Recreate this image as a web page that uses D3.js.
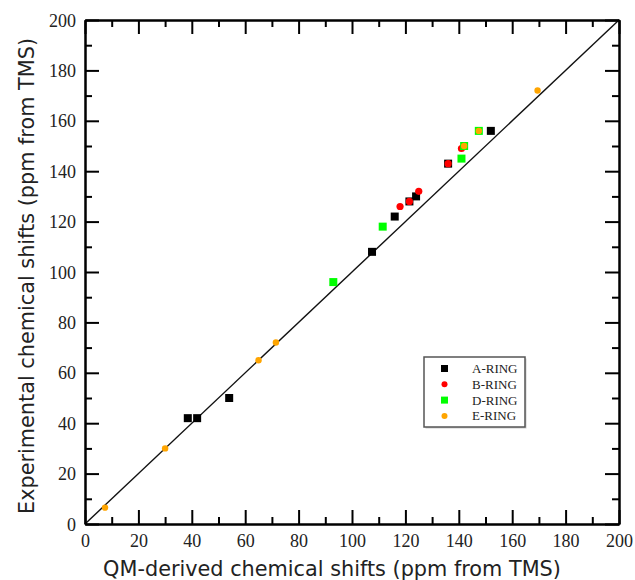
<!DOCTYPE html>
<html>
<head>
<meta charset="utf-8">
<script src="https://cdn.jsdelivr.net/npm/d3@7"></script>
<style>
  html, body { margin: 0; padding: 0; background: #fff; }
</style>
</head>
<body>
<div id="chart"></div>
<script>
// ring series: QM-derived (x) vs experimental (y) shifts
const ringNames = ["A-RING", "B-RING", "D-RING", "E-RING"];
const aX = [38.5, 42, 54, 107.5, 116, 121.5, 124, 136, 152];
const aY = [42, 42, 50, 108, 122, 128, 130, 143, 156];
const bX = [118, 121.5, 125, 136, 141];
const bY = [126, 128, 132, 143, 149];
const dX = [93, 111.5, 141, 142, 147.5];
const dY = [96, 118, 145, 150, 156];
const eX = [7.5, 30, 65, 71.5, 142, 147.5, 169.5];
const eY = [6.5, 30, 65, 72, 150, 156, 172];
const majorTicks = [0, 20, 40, 60, 80, 100, 120, 140, 160, 180, 200];
const minorTicks = [10, 30, 50, 70, 90, 110, 130, 150, 170, 190];
const diagonal = [0, 200];

(() => {
  const W = 635, H = 580;
  const m = { left: 85, top: 20, right: 16, bottom: 56 };
  const iw = W - m.left - m.right;
  const ih = H - m.top - m.bottom;

  const svg = d3.select("#chart").append("svg").attr("width", W).attr("height", H);
  const g = svg.append("g").attr("transform", `translate(${m.left},${m.top})`);

  const x = d3.scaleLinear().domain([0, 200]).range([0, iw]);
  const y = d3.scaleLinear().domain([0, 200]).range([ih, 0]);

  const series = [
    { name: ringNames[0], xs: aX, ys: aY, shape: "square", color: "#000000" },
    { name: ringNames[1], xs: bX, ys: bY, shape: "circle", color: "#ff0000" },
    { name: ringNames[2], xs: dX, ys: dY, shape: "square", color: "#00ff00" },
    { name: ringNames[3], xs: eX, ys: eY, shape: "circle", color: "#ffa500" }
  ];

  // y = x reference line
  g.append("line")
    .attr("x1", x(diagonal[0])).attr("y1", y(diagonal[0]))
    .attr("x2", x(diagonal[1])).attr("y2", y(diagonal[1]))
    .attr("stroke", "#111").attr("stroke-width", 1.4);

  // points
  series.forEach(s => {
    const pts = s.xs.map((v, i) => [v, s.ys[i]]);
    if (s.shape === "square") {
      g.append("g").selectAll("rect").data(pts).join("rect")
        .attr("x", d => x(d[0]) - 4).attr("y", d => y(d[1]) - 4)
        .attr("width", 8).attr("height", 8)
        .attr("fill", s.color);
    } else {
      g.append("g").selectAll("circle").data(pts).join("circle")
        .attr("cx", d => x(d[0])).attr("cy", d => y(d[1]))
        .attr("r", s.color === "#ff0000" ? 3.6 : 3.2)
        .attr("fill", s.color);
    }
  });

  // axes: inward ticks on all four sides
  const labelFont = "'Liberation Serif', 'Times New Roman', serif";
  function styleAxis(sel, labels) {
    sel.select(".domain").attr("stroke", "#000").attr("stroke-width", 2);
    sel.selectAll(".tick line").attr("stroke", "#000").attr("stroke-width", 2);
    if (!labels) sel.selectAll(".tick text").remove();
    else sel.selectAll(".tick text").attr("font-family", labelFont).attr("font-size", 18).attr("fill", "#222");
  }
  const addAxis = (gen, ticks, size, tr, labels) => {
    const ax = g.append("g").attr("transform", tr)
      .call(gen.tickValues(ticks).tickSize(-size).tickSizeOuter(0).tickPadding(size + 6).tickFormat(d3.format("d")));
    styleAxis(ax, labels);
    return ax;
  };
  addAxis(d3.axisBottom(x), minorTicks, 7, `translate(0,${ih})`, false);
  addAxis(d3.axisBottom(x), majorTicks, 14, `translate(0,${ih})`, true)
    .selectAll(".tick text").attr("dy", "0.72em").attr("y", 10);
  addAxis(d3.axisLeft(y), minorTicks, 7, "translate(0,0)", false);
  addAxis(d3.axisLeft(y), majorTicks, 14, "translate(0,0)", true)
    .selectAll(".tick text").attr("x", -9).attr("dy", "0.34em");
  addAxis(d3.axisTop(x), minorTicks, 7, "translate(0,0)", false);
  addAxis(d3.axisTop(x), majorTicks, 14, "translate(0,0)", false);
  addAxis(d3.axisRight(y), minorTicks, 7, `translate(${iw},0)`, false);
  addAxis(d3.axisRight(y), majorTicks, 14, `translate(${iw},0)`, false);

  // axis titles
  const titleFont = "'DejaVu Sans', sans-serif";
  svg.append("text")
    .attr("x", 332).attr("y", 576)
    .attr("text-anchor", "middle")
    .attr("font-family", titleFont).attr("font-size", 20.8).attr("fill", "#222")
    .text("QM-derived chemical shifts (ppm from TMS)");
  svg.append("text")
    .attr("transform", "translate(34,276) rotate(-90)")
    .attr("text-anchor", "middle")
    .attr("font-family", titleFont).attr("font-size", 20.8).attr("fill", "#222")
    .text("Experimental chemical shifts (ppm from TMS)");

  // legend
  const lg = svg.append("g").attr("transform", "translate(424,357)");
  lg.append("rect").attr("x", 1.5).attr("y", 1.5).attr("width", 101).attr("height", 70)
    .attr("fill", "#ccc");
  lg.append("rect").attr("width", 101).attr("height", 70)
    .attr("fill", "#fff").attr("stroke", "#555").attr("stroke-width", 1.5);
  series.forEach((s, i) => {
    const cy = 11.5 + i * 15.8;
    if (s.shape === "square") {
      lg.append("rect").attr("x", 20.5 - 3.5).attr("y", cy - 3.5).attr("width", 7).attr("height", 7).attr("fill", s.color);
    } else {
      lg.append("circle").attr("cx", 20.5).attr("cy", cy).attr("r", 3).attr("fill", s.color);
    }
    lg.append("text").attr("x", 48).attr("y", cy).attr("dy", "0.35em")
      .attr("font-family", labelFont).attr("font-size", 13).attr("fill", "#222")
      .text(s.name);
  });
})();
</script>
</body>
</html>
